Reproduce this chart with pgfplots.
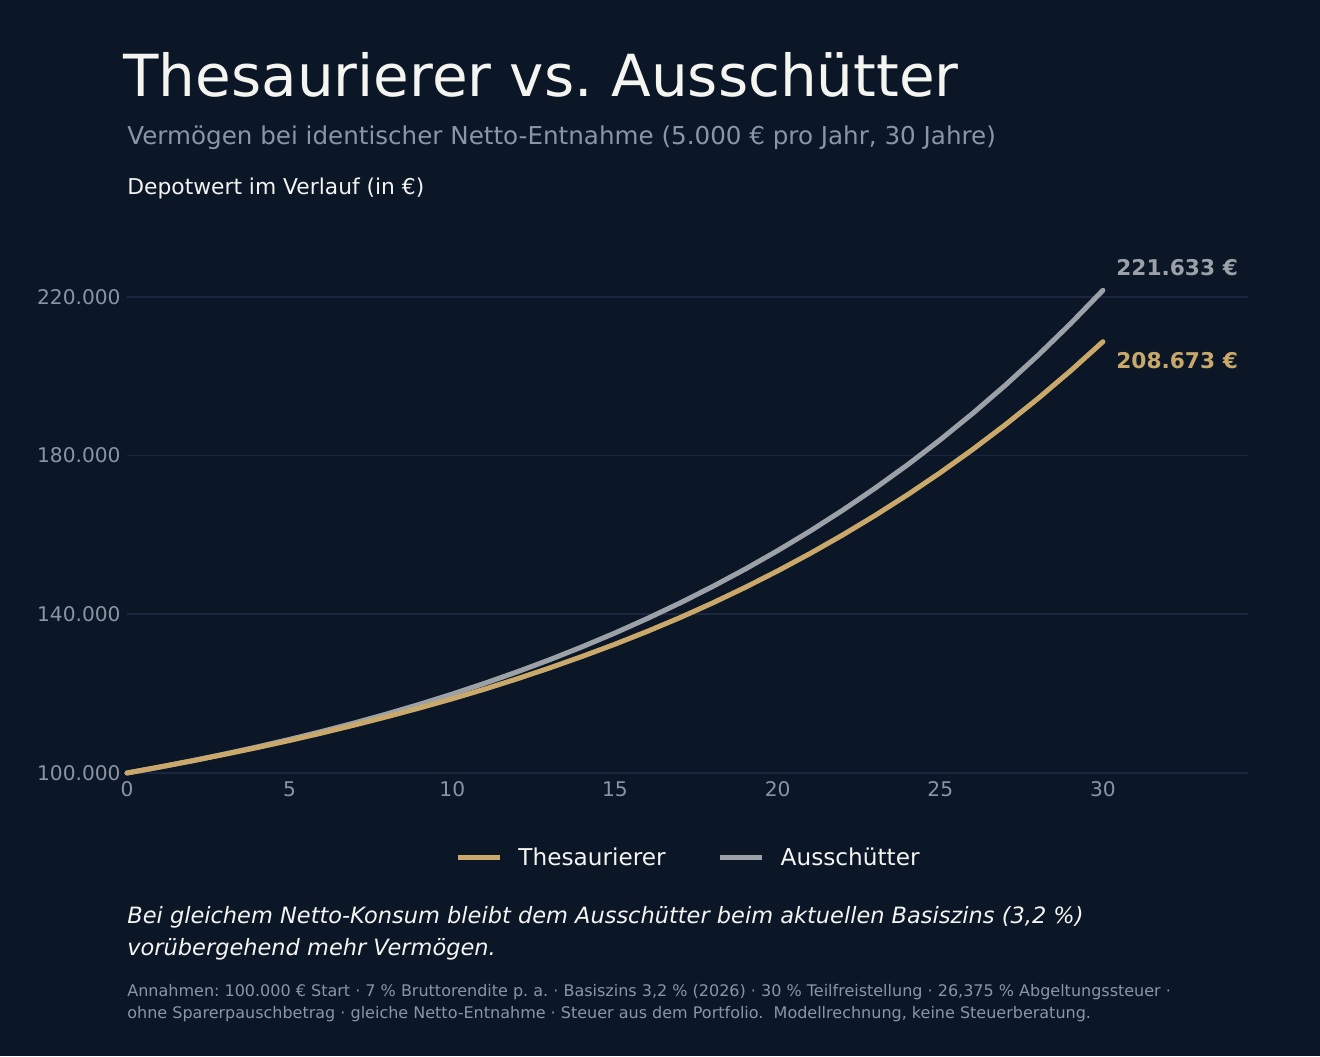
\documentclass[border=0pt]{standalone}
\usepackage{fontspec}
\setmainfont{DejaVu Sans}
\usepackage{pgfplots}
\pgfplotsset{compat=1.18}
\frenchspacing

\definecolor{bg}{HTML}{0B1627}
\definecolor{gridc}{HTML}{1B2740}
\definecolor{tickc}{HTML}{8A94A3}
\definecolor{subc}{HTML}{8A96A6}
\definecolor{goldc}{HTML}{C9A86A}
\definecolor{grayc}{HTML}{9CA1A7}
\definecolor{textc}{HTML}{F4F4F0}

% Depotwert per year (in EUR)
\pgfplotstableread{
jahr wert
0 100000
1 101500
2 103050
3 104700
4 106400
5 108200
6 110100
7 112100
8 114200
9 116400
10 118700
11 121150
12 123750
13 126500
14 129400
15 132450
16 135700
17 139150
18 142830
19 146752
20 150909
21 155312
22 159974
23 164912
24 170140
25 175677
26 181541
27 187750
28 194327
29 201291
30 208673
}\thesaurierer

\pgfplotstableread{
jahr wert
0 100000
1 101498
2 103089
3 104777
4 106570
5 108472
6 110492
7 112635
8 114910
9 117326
10 119890
11 122611
12 125500
13 128567
14 131822
15 135278
16 138946
17 142839
18 146972
19 151359
20 156016
21 160960
22 166207
23 171778
24 177690
25 183967
26 190629
27 197701
28 205208
29 213177
30 221633
}\ausschuetter

\begin{document}
\begin{tikzpicture}
% canvas
\fill[bg] (0,0) rectangle (660pt,528pt);

% headings
\node[anchor=base west, inner sep=0, text=textc, font=\fontsize{29}{34}\selectfont]
  at (61.5pt,479.5pt) {Thesaurierer vs. Ausschütter};
\node[anchor=base west, inner sep=0, text=subc, font=\fontsize{12.3}{14}\selectfont]
  at (63.5pt,455.9pt) {Vermögen bei identischer Netto-Entnahme (5.000 € pro Jahr, 30 Jahre)};
\node[anchor=base west, inner sep=0, text=textc, font=\fontsize{10.9}{12}\selectfont]
  at (63.5pt,430.9pt) {Depotwert im Verlauf (in €)};

\begin{axis}[
  at={(63.5pt,141.5pt)}, anchor=south west,
  scale only axis, width=560.5pt, height=254pt,
  xmin=0, xmax=34.46, ymin=100000, ymax=228000,
  axis line style={draw=none},
  major tick length=0pt,
  xtick={0,5,...,30},
  ytick={100000,140000,180000,220000},
  yticklabels={100.000,140.000,180.000,220.000},
  scaled y ticks=false,
  ymajorgrids,
  grid style={gridc, line width=0.8pt},
  tick label style={text=tickc, font=\fontsize{10.1}{12}\selectfont},
  /pgf/number format/assume math mode=true,
  yticklabel style={anchor=east, inner sep=0pt, xshift=-3pt},
  xticklabel style={anchor=north, inner sep=0pt, yshift=-4pt},
  clip=false,
  legend style={at={(0.5,-0.167)}, anchor=center, draw=none, fill=none,
    text=textc, font=\fontsize{11.6}{14}\selectfont,
    inner sep=0pt, nodes={inner sep=0pt},
    /tikz/every odd column/.append style={column sep=8pt},
    /tikz/every even column/.append style={column sep=26pt}},
  legend columns=2,
  legend image code/.code={\draw[#1, line cap=butt] (0pt,0pt) -- (21pt,0pt);},
]
\addlegendimage{goldc, line width=2.5pt}
\addlegendentry{Thesaurierer}
\addlegendimage{grayc, line width=2.5pt}
\addlegendentry{Ausschütter}

\addplot[grayc, line width=2.5pt, line cap=round, line join=round, forget plot]
  table[x=jahr, y=wert] {\ausschuetter};
\addplot[goldc, line width=2.5pt, line cap=round, line join=round, forget plot]
  table[x=jahr, y=wert] {\thesaurierer};

\node[anchor=west, inner sep=0, text=grayc, font=\bfseries\fontsize{10.85}{12}\selectfont,
  xshift=6.5pt, yshift=11.3pt] at (axis cs:30,221633) {221.633 €};
\node[anchor=west, inner sep=0, text=goldc, font=\bfseries\fontsize{10.85}{12}\selectfont,
  xshift=6.5pt, yshift=-9.2pt] at (axis cs:30,208673) {208.673 €};
\end{axis}

% closing remarks
\node[anchor=base west, inner sep=0, text=textc, font=\itshape\fontsize{11.24}{13}\selectfont]
  at (63.5pt,66.35pt) {Bei gleichem Netto-Konsum bleibt dem Ausschütter beim aktuellen Basiszins (3,2 \%)};
\node[anchor=base west, inner sep=0, text=textc, font=\itshape\fontsize{11.24}{13}\selectfont]
  at (63.5pt,50.5pt) {vorübergehend mehr Vermögen.};
\node[anchor=base west, inner sep=0, text=subc, font=\fontsize{8}{9}\selectfont]
  at (63.5pt,29.65pt) {Annahmen: 100.000 € Start · 7 \% Bruttorendite p. a. · Basiszins 3,2 \% (2026) · 30 \% Teilfreistellung · 26,375 \% Abgeltungssteuer ·};
\node[anchor=base west, inner sep=0, text=subc, font=\fontsize{8}{9}\selectfont]
  at (63.5pt,18.85pt) {ohne Sparerpauschbetrag · gleiche Netto-Entnahme · Steuer aus dem Portfolio.\ \ Modellrechnung, keine Steuerberatung.};
\end{tikzpicture}
\end{document}
